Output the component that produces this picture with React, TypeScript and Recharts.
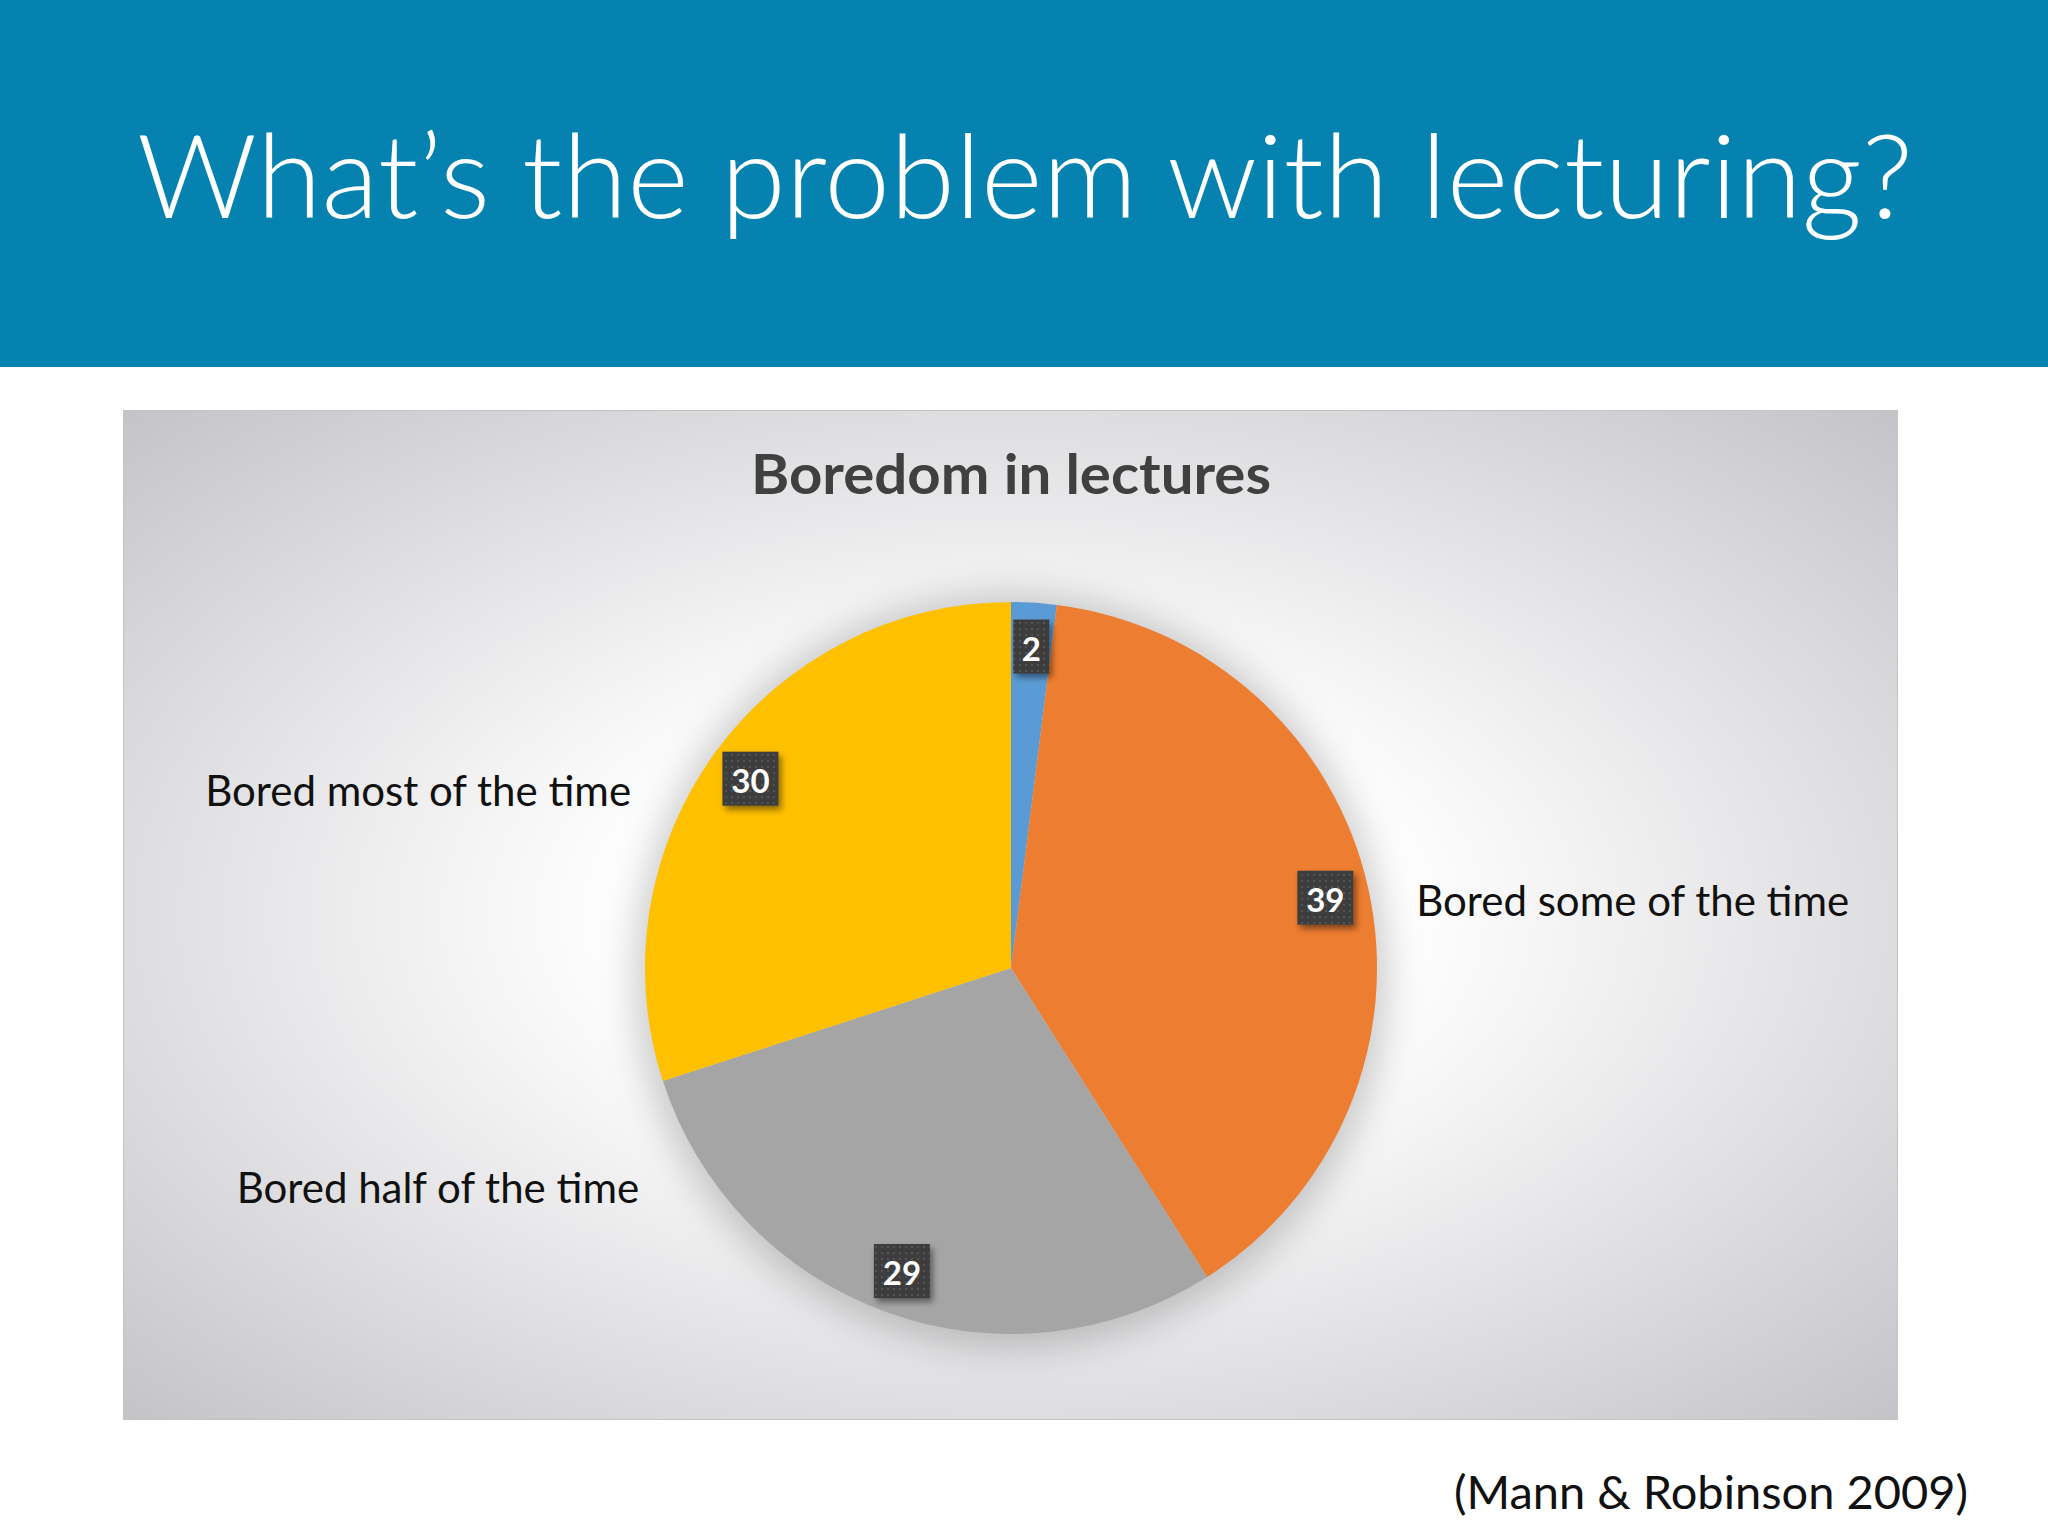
import { PieChart, Pie, Cell } from 'recharts'

const categories = ['Never bored', 'Bored some of the time', 'Bored half of the time', 'Bored most of the time']
const percents = [2, 39, 29, 30]
const sliceColors = ['#5b9bd5', '#ed7d31', '#a5a5a5', '#ffc000']

const slices = categories.map((name, i) => ({ name, value: percents[i] }))

// where the outside category labels sit, in pie radii from the centre (the 2% slice has none)
const labelSpots: Record<number, { dx: number; dy: number; anchor: 'start' | 'end' }> = {
  1: { dx: 1.107, dy: -0.186, anchor: 'start' },
  2: { dx: -1.016, dy: 0.598, anchor: 'end' },
  3: { dx: -1.038, dy: -0.486, anchor: 'end' },
}

const FONT = "Lato, 'Open Sans', sans-serif"
const RAD = Math.PI / 180

const AREA = { left: 123, top: 410, width: 1775, height: 1010 }
const PIE = { cx: 888, cy: 558, r: 366 }

function renderLabel(props: any) {
  const { cx, cy, midAngle, outerRadius, value, index } = props
  const r = outerRadius * 0.88
  const x = cx + r * Math.cos(-midAngle * RAD)
  const y = cy + r * Math.sin(-midAngle * RAD)
  const w = String(value).length > 1 ? 56 : 36
  const h = 54
  const spot = labelSpots[index]
  return (
    <g key={`lbl-${index}`}>
      <rect x={x - w / 2} y={y - h / 2} width={w} height={h} fill="url(#dots)" filter="url(#boxShadow)" />
      <text x={x} y={y + 1} fill="#fff" fontSize={33} fontWeight={700} fontFamily={FONT}
        textAnchor="middle" dominantBaseline="central">{value}</text>
      {spot && (
        <text x={cx + spot.dx * outerRadius} y={cy + spot.dy * outerRadius} fill="#111" fontSize={42}
          fontFamily={FONT} textAnchor={spot.anchor} dominantBaseline="central">{categories[index]}</text>
      )}
    </g>
  )
}

export default function App() {
  return (
    <div style={{ position: 'absolute', left: 0, top: 0, width: 2048, height: 1536, background: '#fff', overflow: 'hidden' }}>
      <div style={{ position: 'absolute', left: 0, top: 0, width: 2048, height: 367, background: '#0582b0' }} />
      <div style={{
        position: 'absolute', left: AREA.left, top: AREA.top, width: AREA.width, height: AREA.height,
        boxSizing: 'border-box', border: '1px solid #c4c4c4',
        background: 'radial-gradient(ellipse farthest-corner at 50% 50%, #ffffff 30%, #f4f4f5 44%, #c4c3c8 100%)',
      }} />
      <div style={{
        position: 'absolute', left: AREA.left + PIE.cx - PIE.r - 10, top: AREA.top + PIE.cy - PIE.r - 6,
        width: 2 * PIE.r + 20, height: 2 * PIE.r + 20, borderRadius: '50%',
        background: 'rgba(0,0,0,0.2)', filter: 'blur(18px)',
      }} />
      <div style={{ position: 'absolute', left: AREA.left, top: AREA.top }}>
        <PieChart width={AREA.width} height={AREA.height} margin={{ top: 0, right: 0, bottom: 0, left: 0 }}>
          <defs>
            <pattern id="dots" width="6" height="6" patternUnits="userSpaceOnUse">
              <rect width="6" height="6" fill="#3c3c3e" />
              <circle cx="3" cy="3" r="0.9" fill="#5d5d60" />
            </pattern>
            <filter id="boxShadow" x="-40%" y="-40%" width="180%" height="180%">
              <feDropShadow dx="3" dy="4" stdDeviation="3" floodColor="#000" floodOpacity="0.45" />
            </filter>
          </defs>
          <Pie data={slices} dataKey="value" nameKey="name" cx={PIE.cx} cy={PIE.cy} outerRadius={PIE.r}
            startAngle={90} endAngle={-270} stroke="none" label={renderLabel} labelLine={false}
            isAnimationActive={false}>
            {slices.map((s, i) => <Cell key={s.name} fill={sliceColors[i]} />)}
          </Pie>
        </PieChart>
      </div>
      <svg width={2048} height={1536} style={{ position: 'absolute', left: 0, top: 0, pointerEvents: 'none' }}>
        <text x={137} y={218} fill="#fff" fontSize={116} fontWeight={300} fontFamily={FONT}
          textLength={1776} lengthAdjust="spacingAndGlyphs">What’s the problem with lecturing?</text>
        <text x={1011} y={494} fill="#404040" fontSize={56} fontWeight={700} fontFamily={FONT}
          textAnchor="middle" textLength={520} lengthAdjust="spacingAndGlyphs">Boredom in lectures</text>
        <text x={1968} y={1509} fill="#111" fontSize={47} fontFamily={FONT} textAnchor="end">(Mann &amp; Robinson 2009)</text>
      </svg>
    </div>
  )
}
